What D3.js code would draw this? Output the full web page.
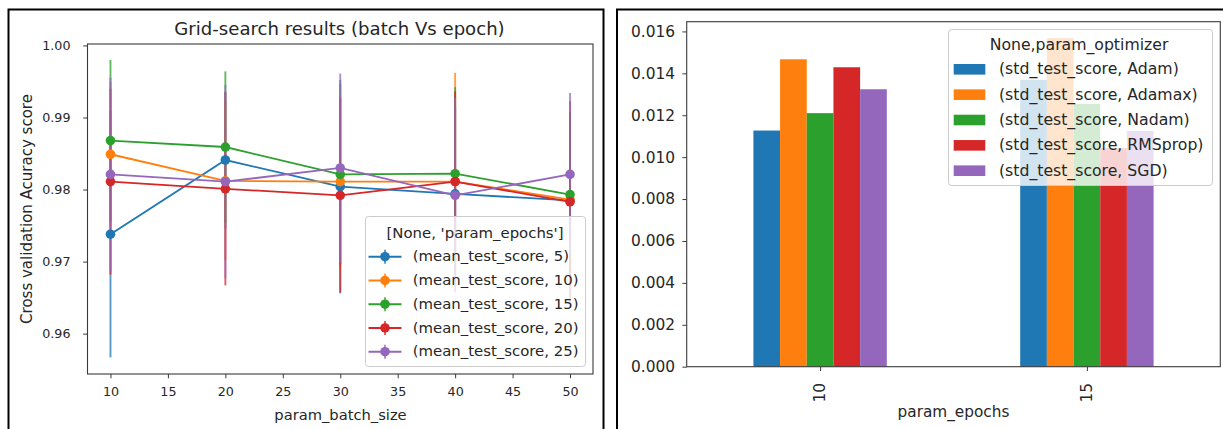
<!DOCTYPE html>
<html>
<head>
<meta charset="utf-8">
<script src="https://cdn.jsdelivr.net/npm/d3@7"></script>
<style>
  html, body { margin: 0; padding: 0; background: #fff; }
  svg { display: block; font-family: "DejaVu Sans", sans-serif; }
</style>
</head>
<body>
<svg id="chart" width="1223" height="429"></svg>
<script>
// ---- Left panel: grid search (batch size vs epochs) ----
const batchSizes = [10, 20, 30, 40, 50];
const epochLabels = ["5", "10", "15", "20", "25"];

const meanEpochs5  = [0.9738, 0.9841, 0.9804, 0.9794, 0.9785];
const meanEpochs10 = [0.9849, 0.9812, 0.9811, 0.9811, 0.9786];
const meanEpochs15 = [0.9868, 0.9859, 0.9821, 0.9822, 0.9793];
const meanEpochs20 = [0.9811, 0.9801, 0.9792, 0.9811, 0.9783];
const meanEpochs25 = [0.9821, 0.9811, 0.9830, 0.9792, 0.9821];

const stdEpochs5  = [0.0171, 0.0095, 0.0148, 0.0120, 0.0110];
const stdEpochs10 = [0.0100, 0.0110, 0.0120, 0.0151, 0.0120];
const stdEpochs15 = [0.0112, 0.0105, 0.0125, 0.0120, 0.0115];
const stdEpochs20 = [0.0129, 0.0134, 0.0135, 0.0125, 0.0140];
const stdEpochs25 = [0.0134, 0.0134, 0.0131, 0.0135, 0.0113];

const batchTicks = [10, 15, 20, 25, 30, 35, 40, 45, 50];
const scoreTicks = [0.96, 0.97, 0.98, 0.99, 1.00];

// ---- Right panel: std of test score per optimizer ----
const epochGroups = ["10", "15"];
const optimizers = ["Adam", "Adamax", "Nadam", "RMSprop", "SGD"];
const stdAdam    = [0.01127, 0.01369];
const stdAdamax  = [0.01467, 0.01568];
const stdNadam   = [0.01210, 0.01254];
const stdRMSprop = [0.01429, 0.01043];
const stdSGD     = [0.01324, 0.01125];
const stdTicks = [0, 0.002, 0.004, 0.006, 0.008, 0.010, 0.012, 0.014, 0.016];

const palette = ["#1f77b4", "#ff7f0e", "#2ca02c", "#d62728", "#9467bd"];
const SPINE = "#3a3a3a";
const TEXT = "#262626";

const svg = d3.select("#chart");

// Panel frames
svg.append("rect").attr("x", 8.5).attr("y", 9.5).attr("width", 595).attr("height", 440)
  .attr("fill", "none").attr("stroke", "#000").attr("stroke-width", 2);
svg.append("rect").attr("x", 617).attr("y", 9.5).attr("width", 620).attr("height", 440)
  .attr("fill", "none").attr("stroke", "#000").attr("stroke-width", 2);

function styleAxis(a, size) {
  a.select(".domain").remove();
  a.selectAll(".tick line").attr("stroke", SPINE).attr("stroke-width", 1);
  a.selectAll(".tick text").attr("fill", TEXT).style("font-size", size + "px")
    .style("font-family", "DejaVu Sans");
}

// ================= Left chart =================
(function () {
  const L = 87.5, R = 593, T = 44, B = 374;
  const TICK = 12.7, LABEL = 14.7, LEG = 14.9;
  const x = d3.scaleLinear().domain([8, 52]).range([L, R]);
  const y = d3.scaleLinear().domain([0.9544, 1.0002]).range([B, T]);

  const means = [meanEpochs5, meanEpochs10, meanEpochs15, meanEpochs20, meanEpochs25];
  const stds = [stdEpochs5, stdEpochs10, stdEpochs15, stdEpochs20, stdEpochs25];
  const series = epochLabels.map((lab, i) => ({
    label: lab, color: palette[i],
    pts: batchSizes.map((b, j) => ({ b, m: means[i][j], s: stds[i][j] }))
  }));

  const g = svg.append("g");

  // error bars (below all lines)
  series.forEach(s => {
    g.append("g").selectAll("line").data(s.pts).join("line")
      .attr("x1", d => x(d.b)).attr("x2", d => x(d.b))
      .attr("y1", d => y(d.m - d.s)).attr("y2", d => y(d.m + d.s))
      .attr("stroke", s.color).attr("stroke-width", 1.9).attr("stroke-opacity", 0.75);
  });

  // lines + markers
  const line = d3.line().x(d => x(d.b)).y(d => y(d.m));
  series.forEach(s => {
    g.append("path").datum(s.pts).attr("d", line)
      .attr("fill", "none").attr("stroke", s.color).attr("stroke-width", 1.85);
    g.append("g").selectAll("circle").data(s.pts).join("circle")
      .attr("cx", d => x(d.b)).attr("cy", d => y(d.m)).attr("r", 4.8)
      .attr("fill", s.color);
  });

  // axes
  const xAxis = d3.axisBottom(x).tickValues(batchTicks).tickFormat(d3.format("d"))
    .tickSize(4.3).tickPadding(8.5);
  const yAxis = d3.axisLeft(y).tickValues(scoreTicks).tickFormat(d3.format(".2f"))
    .tickSize(4.3).tickPadding(12.7);
  const ax = svg.append("g").attr("transform", `translate(0,${B})`).call(xAxis);
  const ay = svg.append("g").attr("transform", `translate(${L},0)`).call(yAxis);
  styleAxis(ax, TICK);
  styleAxis(ay, TICK);
  // spines
  svg.append("rect").attr("x", L).attr("y", T).attr("width", R - L).attr("height", B - T)
    .attr("fill", "none").attr("stroke", SPINE).attr("stroke-width", 1.1);

  svg.append("text").attr("x", 339.5).attr("y", 35).attr("text-anchor", "middle")
    .attr("fill", TEXT).style("font-size", "18.1px").text("Grid-search results (batch Vs epoch)");
  svg.append("text").attr("x", 340.5).attr("y", 419.5).attr("text-anchor", "middle")
    .attr("fill", TEXT).style("font-size", LABEL + "px").text("param_batch_size");
  svg.append("text").attr("transform", `translate(31.5,${(T + B) / 2}) rotate(-90)`)
    .attr("text-anchor", "middle").attr("fill", TEXT).style("font-size", "15px")
    .text("Cross validation Acuracy score");

  // legend
  const lg = svg.append("g");
  lg.append("rect").attr("x", 365.5).attr("y", 216.5).attr("width", 220).attr("height", 150)
    .attr("rx", 3).attr("fill", "#fff").attr("fill-opacity", 0.8)
    .attr("stroke", "#cccccc").attr("stroke-width", 1);
  lg.append("text").attr("x", 475).attr("y", 237.7).attr("text-anchor", "middle")
    .attr("fill", TEXT).style("font-size", LEG + "px").text("[None, 'param_epochs']");
  series.forEach((s, i) => {
    const cy = 256.7 + i * 23.75;
    lg.append("line").attr("x1", 368.5).attr("x2", 401.5).attr("y1", cy).attr("y2", cy)
      .attr("stroke", s.color).attr("stroke-width", 1.85);
    lg.append("line").attr("x1", 385).attr("x2", 385).attr("y1", cy - 7).attr("y2", cy + 7)
      .attr("stroke", s.color).attr("stroke-width", 1.9).attr("stroke-opacity", 0.75);
    lg.append("circle").attr("cx", 385).attr("cy", cy).attr("r", 4.8).attr("fill", s.color);
    lg.append("text").attr("x", 412.7).attr("y", cy).attr("dy", "0.32em")
      .attr("fill", TEXT).style("font-size", LEG + "px")
      .text(`(mean_test_score, ${s.label})`);
  });
})();

// ================= Right chart =================
(function () {
  const L = 686.7, R = 1220.3, T = 21.7, B = 366.7;
  const TICK = 15.4, LEG = 15.7;
  const x = d3.scaleLinear().domain([-0.5, 1.5]).range([L, R]);
  const y = d3.scaleLinear().domain([0, 0.01568 * 1.05]).range([B, T]);
  const values = [stdAdam, stdAdamax, stdNadam, stdRMSprop, stdSGD];
  const barW = 0.5 / optimizers.length;

  const g = svg.append("g");
  optimizers.forEach((opt, k) => {
    g.append("g").selectAll("rect").data(epochGroups.map((e, j) => ({ j, v: values[k][j] })))
      .join("rect")
      .attr("x", d => x(d.j - 0.25 + k * barW))
      .attr("width", d => x(d.j - 0.25 + (k + 1) * barW) - x(d.j - 0.25 + k * barW))
      .attr("y", d => y(d.v))
      .attr("height", d => y(0) - y(d.v))
      .attr("fill", palette[k]);
  });

  const xAxis = d3.axisBottom(x).tickValues([0, 1]).tickFormat((d, i) => epochGroups[i])
    .tickSize(4.3).tickPadding(4);
  const yAxis = d3.axisLeft(y).tickValues(stdTicks).tickFormat(d3.format(".3f"))
    .tickSize(4.3).tickPadding(7.4);
  const ax = svg.append("g").attr("transform", `translate(0,${B})`).call(xAxis);
  const ay = svg.append("g").attr("transform", `translate(${L},0)`).call(yAxis);
  styleAxis(ax, TICK);
  styleAxis(ay, TICK);
  ax.selectAll(".tick text")
    .attr("transform", "translate(0,16.3) rotate(-90)")
    .attr("y", 0).attr("x", 0).attr("dy", "4.3px")
    .attr("text-anchor", "end");
  svg.append("rect").attr("x", L).attr("y", T).attr("width", R - L).attr("height", B - T)
    .attr("fill", "none").attr("stroke", SPINE).attr("stroke-width", 1.1);

  svg.append("text").attr("x", (L + R) / 2).attr("y", 416.5).attr("text-anchor", "middle")
    .attr("fill", TEXT).style("font-size", "15.3px").text("param_epochs");

  // legend
  const lg = svg.append("g");
  lg.append("rect").attr("x", 948.5).attr("y", 29.5).attr("width", 264).attr("height", 156)
    .attr("rx", 3).attr("fill", "#fff").attr("fill-opacity", 0.8)
    .attr("stroke", "#cccccc").attr("stroke-width", 1);
  lg.append("text").attr("x", 1079).attr("y", 49.8).attr("text-anchor", "middle")
    .attr("fill", TEXT).style("font-size", LEG + "px").text("None,param_optimizer");
  optimizers.forEach((opt, k) => {
    const cy = 69.3 + k * 25.35;
    lg.append("rect").attr("x", 953.7).attr("y", cy - 5.3).attr("width", 31.6).attr("height", 10.6)
      .attr("fill", palette[k]);
    lg.append("text").attr("x", 999).attr("y", cy).attr("dy", "0.32em")
      .attr("fill", TEXT).style("font-size", LEG + "px")
      .text(`(std_test_score, ${opt})`);
  });
})();
</script>
</body>
</html>
